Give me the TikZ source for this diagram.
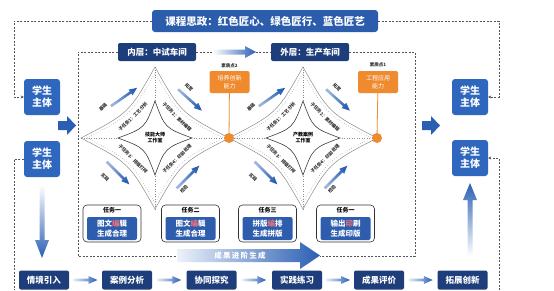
\documentclass[tikz,border=0pt]{standalone}
\usepackage{fontspec}
\setmainfont{Noto Sans CJK SC}
\usetikzlibrary{calc,arrows.meta}
\definecolor{banblue}{HTML}{2C5DAD}
\definecolor{navy}{HTML}{1E3D7B}
\definecolor{stublue}{HTML}{2F66BE}
\definecolor{arrblue}{HTML}{2A5FB4}
\definecolor{ltb}{HTML}{E4ECF8}
\definecolor{orng}{HTML}{EF8A2E}
\definecolor{edgegray}{HTML}{8C8C8C}
\definecolor{dgray}{HTML}{555555}
\definecolor{taskred}{HTML}{F07078}
\definecolor{taskblue}{HTML}{2E5DAE}
\tikzset{
  stu/.style={fill=stublue, rounded corners=3pt, text=white, font=\fontsize{10}{12}\selectfont\bfseries, align=center, minimum width=36, minimum height=36, inner sep=0},
  layer/.style={fill=navy, rounded corners=2pt, text=white, font=\fontsize{8.5}{10}\selectfont\bfseries, minimum width=78, minimum height=18, inner sep=0},
  stage/.style={fill=navy, rounded corners=2pt, text=white, font=\fontsize{8.5}{10}\selectfont\bfseries, minimum width=50, minimum height=19, inner sep=0},
  dashline/.style={dgray, dashed, dash pattern=on 2pt off 1.5pt, line width=0.5pt},
  obox/.style={fill=orng, rounded corners=2pt, text=white, font=\fontsize{6}{7.5}\selectfont, align=center, minimum width=40, minimum height=22, inner sep=0},
  tiny/.style={font=\fontsize{4.5}{5.5}\selectfont\bfseries, text=black!80, inner sep=0},
  tasko/.style={draw=black!80, line width=0.6pt, fill=white, rounded corners=4pt, minimum width=58, minimum height=37, inner sep=0},
  taski/.style={fill=taskblue, rounded corners=2pt, text=white, font=\fontsize{7.5}{9.5}\selectfont\bfseries, align=center, minimum width=50, minimum height=23, inner sep=0},
  tasktitle/.style={font=\fontsize{6}{7}\selectfont\bfseries, inner sep=0},
  edge/.style={edgegray, line width=0.5pt},
  dotl/.style={edgegray, dotted, line width=0.5pt},
  hbar/.pic={\shade[left color=ltb, right color=arrblue] (0,-1.3) -- (15,-1.3) -- (15,-4) -- (24,0) -- (15,4) -- (15,1.3) -- (0,1.3) -- cycle;},
  darrow/.pic={\shade[top color=arrblue, bottom color=ltb!60!arrblue, shading angle=#1] (-16,-1.3) -- (8,-1.3) -- (8,-3.5) -- (16,0) -- (8,3.5) -- (8,1.3) -- (-16,1.3) -- cycle;}
}
\begin{document}
\begin{tikzpicture}[x=1pt,y=-1pt]
\useasboundingbox[fill=white] (0,0) rectangle (554,290);

% banner
\node[fill=banblue, rounded corners=3pt, text=white, font=\fontsize{10.5}{12}\selectfont\bfseries, minimum width=226, minimum height=22, inner sep=0] (ban) at (265,21) {课程思政：红色匠心、绿色匠行、蓝色匠艺};

% student boxes
\node[stu] (s1) at (42,97) {学生\\主体};
\node[stu] (s2) at (42,159) {学生\\主体};
\node[stu] (s3) at (470,97) {学生\\主体};
\node[stu] (s4) at (470,158) {学生\\主体};

\coordinate (k1) at (14,97);
\coordinate (k2) at (499,97);
\coordinate (k3) at (14,290);
\coordinate (k4) at (499,290);
\draw[dashline,-{Stealth[length=3pt,width=3pt]}] (ban.west) -| (k1) -- (s1.west);
\draw[dashline,-{Stealth[length=3pt,width=3pt]}] (ban.east) -| (k2) -- (s3.east);
\draw[dashline] (s2.west) -| (k3);
\draw[dashline,-{Stealth[length=3pt,width=3pt]}] (k4) |- (s4.east);

% layer labels and frame
\node[layer] (in) at (157,52) {内层：中试车间};
\node[layer] (out) at (310,52) {外层：生产车间};
\coordinate (f1) at (78,256);
\coordinate (f2) at (177,256);
\coordinate (f3) at (415,256);
\coordinate (f4) at (320,256);
\draw[dashline] (in.west) -| (f1) -- (f2);
\draw[dashline] (out.east) -| (f3) -- (f4);
\draw[dashline] (in.east) -- (out.west);
\shade[left color=white, right color=arrblue] (213,49.5) -- (245,49.5) -- (245,46) -- (256,52) -- (245,58) -- (245,54.5) -- (213,54.5) -- cycle;

% big arrows into / out of frame
\fill[arrblue] (58,121) -- (67,121) -- (67,116) -- (76,125.5) -- (67,135) -- (67,130) -- (58,130) -- cycle;
\fill[arrblue] (422,121) -- (431,121) -- (431,116) -- (440,125.5) -- (431,135) -- (431,130) -- (422,130) -- cycle;
\shade[top color=white, bottom color=arrblue] (39.5,185) -- (44.5,185) -- (44.5,240) -- (49,240) -- (42,258) -- (35,240) -- (39.5,240) -- cycle;
\shade[top color=arrblue, bottom color=white] (467.5,256) -- (472.5,256) -- (472.5,200) -- (477,200) -- (470,183) -- (463,200) -- (467.5,200) -- cycle;

% diamonds
\foreach \cx/\ta/\tb in {155/技能大师/工作室, 303/产教案例/工作室}{
  \coordinate (L) at (\cx-74,138);
  \coordinate (T) at (\cx,67);
  \coordinate (R) at (\cx+74,138);
  \coordinate (B) at (\cx,209);
  \coordinate (L2) at (\cx-37,138);
  \coordinate (T2) at (\cx,101);
  \coordinate (R2) at (\cx+37,138);
  \coordinate (B2) at (\cx,175);
  \draw[edge] (L) .. controls (\cx-26,113) .. (T) .. controls (\cx+26,113) .. (R) .. controls (\cx+26,163) .. (B) .. controls (\cx-26,163) .. cycle;
  \draw[dotl] (\cx-68,138) .. controls (\cx-24,115) .. (\cx,73) .. controls (\cx+24,115) .. (\cx+68,138) .. controls (\cx+24,161) .. (\cx,203) .. controls (\cx-24,161) .. cycle;
  \draw[black!75, line width=0.6pt] (L2) .. controls (\cx-10,128) .. (T2) .. controls (\cx+10,128) .. (R2) .. controls (\cx+10,148) .. (B2) .. controls (\cx-10,148) .. cycle;
  \draw[dotl] (L) -- (L2) (T) -- (T2) (R) -- (R2) (B) -- (B2);
  \node[font=\fontsize{5}{6}\selectfont\bfseries, align=center, inner sep=0] at (\cx,138) {\ta\\\tb};
  \node[tiny, rotate=45] at (\cx-22,117) {子任务1：工艺分析};
  \node[tiny, rotate=-45] at (\cx+22,117) {子任务2：素材编辑};
  \node[tiny, rotate=-45] at (\cx-22,159) {子任务3：排版打样};
  \node[tiny, rotate=45] at (\cx+22,159) {子任务4：印前处理};
  \pic[rotate=35] at (\cx-31,97) {darrow=-55};
  \pic[rotate=-42] at (\cx+35,100) {darrow=-132};
  \pic[rotate=-45] at (\cx-37,173) {darrow=-135};
  \pic[rotate=45] at (\cx+33,177) {darrow=-45};
  \node[tiny, rotate=45] at (\cx-52,107) {基础};
  \node[tiny, rotate=-45] at (\cx+34,87) {拓宽};
  \node[tiny, rotate=-45] at (\cx-50,177) {实践};
  \node[tiny, rotate=45] at (\cx+29,189) {检验};
}

% orange ability points
\node[obox] (o1) at (229.5,82) {培养创新\\能力};
\node[obox] (o2) at (378,82) {工程应用\\能力};
\node[tiny] (p1) at (229.5,66) {素质点2};
\node[tiny] (p2) at (378,65) {素质点1};
\node[circle, fill=orng, minimum size=10, inner sep=0] (c1) at (229,138) {};
\node[circle, fill=orng, minimum size=10, inner sep=0] (c2) at (377,138) {};
\draw[orng, line width=0.8pt] (c1) -- (o1);
\draw[orng, line width=0.8pt] (c2) -- (o2);

% task boxes
\foreach \x/\tt/\la/\lb in {112/任务一/图文\textcolor{taskred}{编}辑/生成合理, 190.5/任务二/图文\textcolor{taskred}{编}辑/生成合理, 267.5/任务三/拼版\textcolor{taskred}{编}排/生成拼版, 345.5/任务一/输出\textcolor{taskred}{印}刷/生成印版}{
  \node[tasko] (t\x) at (\x,223.5) {};
  \node[tasktitle] at (\x,210.5) {\tt};
  \node[taski] at (\x,228.5) {\la\\\lb};
}

% result bar
\shade[left color=ltb!70!white, right color=arrblue] (177,249) -- (300,249) -- (300,242) -- (320,255.5) -- (300,269) -- (300,262) -- (177,262) -- cycle;
\node[text=white, font=\fontsize{7.5}{9}\selectfont\bfseries, inner sep=0] (res) at (240,255.5) {成\,果\,进\,阶\,生\,成};

% bottom process
\node[stage] (b1) at (44,280) {情境引入};
\node[stage] (b2) at (127,280) {案例分析};
\node[stage] (b3) at (211.5,280) {协同探究};
\node[stage] (b4) at (297,280) {实践练习};
\node[stage] (b5) at (379,280) {成果评价};
\node[stage] (b6) at (462.5,280) {拓展创新};
\foreach \a/\b in {b1/b2, b2/b3, b3/b4, b4/b5, b5/b6}{
  \pic at ($(\a.east)!0.5!(\b.west)+(-12,0)$) {hbar};
}
\end{tikzpicture}
\end{document}
